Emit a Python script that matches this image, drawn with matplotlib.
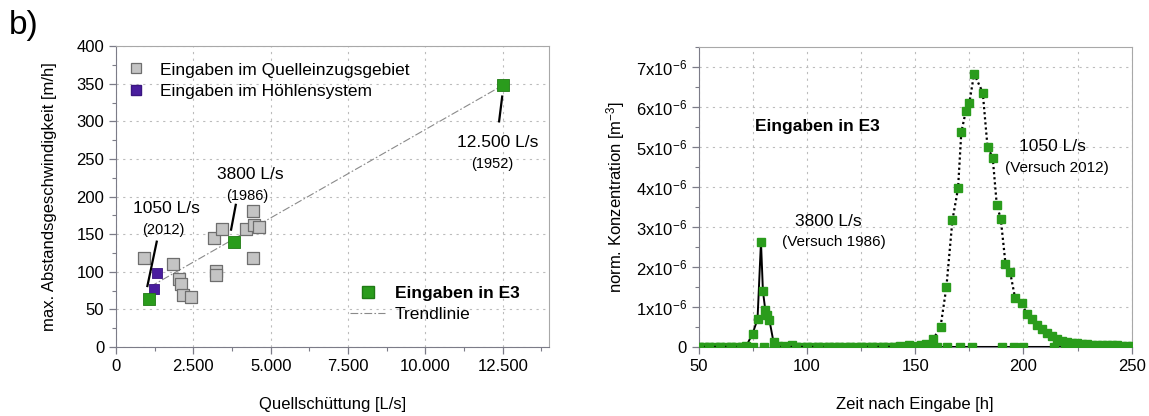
import matplotlib
matplotlib.use("Agg")
import matplotlib.pyplot as plt
from matplotlib.lines import Line2D
from matplotlib.ticker import MultipleLocator, FixedLocator

plt.rcParams['font.family'] = ['Liberation Sans', 'DejaVu Sans']
plt.rcParams['mathtext.default'] = 'regular'

# --- left panel: max. flow velocity vs. spring discharge ---
catch_q = [894, 1832, 2026, 2101, 2177, 2425, 3157, 3438, 3222, 3222,
           4213, 4418, 4472, 4623, 4418]
catch_v = [118, 110, 90, 84, 69.5, 67, 145.5, 156.5, 100.5, 96,
           156.5, 180.5, 162.5, 159, 118]
cave_q = [1336, 1228]
cave_v = [98, 77.5]
e3_q = [1050, 3800, 12500]
e3_v = [64, 140, 348]
e3_label = ['1050 L/s', '3800 L/s', '12.500 L/s']
e3_year = ['(2012)', '(1986)', '(1952)']
trend_q = [1100, 12500]
trend_v = [80, 348]

# --- right panel: breakthrough curves at E3 (values in 1e-6 m^-3) ---
t_1986 = [50, 52.5, 55, 57.5, 60, 62.5, 65, 67.5, 70, 72, 74.9, 77.2, 78.8,
          79.7, 80.8, 81.8, 82.7, 84.6, 86.5, 89.5, 93, 95, 97.5, 100, 102.5,
          105, 107.5, 110, 112.5, 115, 117.5, 120, 122.5, 125, 127.5, 130,
          132.5, 135, 137.5, 140, 142.5, 145, 147.5, 150, 152.5, 155, 157.5,
          160, 164.6, 170.8, 176.1, 190, 195.4, 200, 214.1, 219.2]
c_1986 = [0, 0, 0, 0, 0, 0, 0, 0, 0, 0.02, 0.33, 0.69, 2.63,
          1.40, 0.92, 0.79, 0.67, 0.12, 0.03, 0.02, 0.04, 0.01, 0, 0, 0,
          0, 0, 0, 0, 0, 0, 0, 0, 0, 0, 0,
          0, 0, 0, 0, 0, 0, 0, 0, 0, 0, 0,
          0, 0, 0, 0, 0, 0, 0, 0, 0]
t_2012 = [50, 55, 60, 65, 70, 75, 80, 85, 90, 95, 100, 105, 110, 115, 120,
          125, 130, 135, 140, 143, 147.2, 150, 152.5, 154.9, 158.4, 161.7,
          164.4, 167.2, 169.8, 171.3, 173.4, 175.0, 177.2, 181.2, 183.4,
          185.8, 187.7, 189.5, 191.7, 193.8, 196.1, 199.2, 201.5, 203.8,
          206.2, 208.5, 210.8, 213.1, 215.4, 217.7, 220, 222.3, 224.6, 226.9,
          229.2, 231.5, 233.8, 236.1, 238.4, 240.7, 243, 245.3, 247.6, 250]
c_2012 = [0, 0, 0, 0, 0, 0, 0, 0, 0, 0, 0, 0, 0, 0, 0,
          0, 0, 0, 0, 0.02, 0.05, 0.03, 0.04, 0.08, 0.2, 0.5,
          1.49, 3.17, 3.97, 5.37, 5.90, 6.10, 6.83, 6.36, 5.00,
          4.73, 3.54, 3.21, 2.08, 1.88, 1.23, 1.10, 0.82, 0.70,
          0.55, 0.45, 0.36, 0.28, 0.21, 0.16, 0.12, 0.10, 0.09, 0.08,
          0.07, 0.06, 0.06, 0.05, 0.05, 0.04, 0.04, 0.03, 0.03, 0.02]
conc_ticks = [0, 1, 2, 3, 4, 5, 6, 7]
conc_labels = ['0'] + [f'{k}x10$^{{-6}}$' for k in conc_ticks[1:]]

GREEN = '#2a9c1c'
GRAY_FACE = '#c4c4c4'
GRAY_EDGE = '#6e6e6e'
PURPLE = '#4a1e9e'
GRID_LS = (0, (2, 4))


def style_axes(ax):
    for side in ('left', 'bottom'):
        ax.spines[side].set_color('#7c7c88')
    for side in ('top', 'right'):
        ax.spines[side].set_color('#a8a8a8')
    ax.tick_params(which='both', direction='out', colors='#7c7c88',
                   labelcolor='black', labelsize=12, top=False, right=False)
    ax.tick_params(which='major', length=5, width=0.9)
    ax.tick_params(which='minor', length=3, width=0.8)


fig = plt.figure(figsize=(11.49, 4.16), dpi=100)
ax1 = fig.add_axes([0.101, 0.166, 0.377, 0.723])
ax2 = fig.add_axes([0.608, 0.166, 0.377, 0.721])

# left panel
ax1.plot(trend_q, trend_v, color='#8a8a8a', lw=0.8,
         linestyle=(0, (7, 2, 1.5, 2)), zorder=2)
ax1.scatter(catch_q, catch_v, marker='s', s=70, facecolor=GRAY_FACE,
            edgecolor=GRAY_EDGE, linewidth=0.9, zorder=3)
ax1.scatter(cave_q, cave_v, marker='s', s=60, facecolor=PURPLE,
            edgecolor='#3a1580', linewidth=0.6, zorder=4)
ax1.scatter(e3_q, e3_v, marker='s', s=80, facecolor=GREEN,
            edgecolor='#1f7a14', linewidth=0.6, zorder=5)

# labels of the E3 injections with leader lines
ax1.plot([1315, 1013], [140, 81], color='black', lw=1.6, zorder=6)
ax1.plot([3869, 3718], [189, 156], color='black', lw=1.6, zorder=6)
ax1.plot([12480, 12380], [333, 300], color='black', lw=1.6, zorder=6)
label_pos = [(1640, 184, 1530, 156), (4350, 230, 4225, 201), (12330, 272, 12155, 243)]
for (lx, ly, yx, yy), lab, yr in zip(label_pos, e3_label, e3_year):
    ax1.text(lx, ly, lab, fontsize=12.5, ha='center', va='center')
    ax1.text(yx, yy, yr, fontsize=10.5, ha='center', va='center')

ax1.set_xlim(0, 14000)
ax1.set_ylim(0, 400)
ax1.xaxis.set_major_locator(MultipleLocator(2500))
ax1.xaxis.set_minor_locator(MultipleLocator(1250))
ax1.yaxis.set_major_locator(MultipleLocator(50))
ax1.yaxis.set_minor_locator(MultipleLocator(25))
ax1.set_xticklabels([f'{int(v):,}'.replace(',', '.') for v in ax1.get_xticks()])
ax1.grid(True, which='major', color='#bcbcbc', lw=0.8, linestyle=GRID_LS)
ax1.set_axisbelow(True)
style_axes(ax1)
ax1.set_xlabel('Quellschüttung [L/s]', fontsize=12, labelpad=17)
ax1.set_ylabel('max. Abstandsgeschwindigkeit [m/h]', fontsize=12, labelpad=14)

h_catch = Line2D([], [], marker='s', ls='none', ms=7.5, mfc=GRAY_FACE,
                 mec=GRAY_EDGE, mew=0.9)
h_cave = Line2D([], [], marker='s', ls='none', ms=7.5, mfc=PURPLE, mec='#3a1580')
leg1 = ax1.legend([h_catch, h_cave],
                  ['Eingaben im Quelleinzugsgebiet', 'Eingaben im Höhlensystem'],
                  loc='upper left', bbox_to_anchor=(-0.015, 0.998), frameon=False,
                  fontsize=12.5, handletextpad=0.8, labelspacing=0.35,
                  handlelength=1.2)
ax1.add_artist(leg1)
h_e3 = Line2D([], [], marker='s', ls='none', ms=9, mfc=GREEN, mec='#1f7a14')
h_trend = Line2D([], [], color='#8a8a8a', lw=0.8, linestyle=(0, (7, 2, 1.5, 2)))
leg2 = ax1.legend([h_e3, h_trend], ['Eingaben in E3', 'Trendlinie'],
                  loc='lower left', bbox_to_anchor=(0.505, 0.03), frameon=False,
                  fontsize=12.5, handletextpad=0.55, labelspacing=0.35,
                  handlelength=2.0)
leg2.get_texts()[0].set_fontweight('bold')

# right panel
ax2.plot(t_1986, c_1986, color='black', lw=1.4, marker='s', ms=5.5,
         mfc=GREEN, mec=GREEN, zorder=3)
ax2.plot(t_2012, c_2012, color='black', lw=1.6, linestyle=(0, (1, 1.3)),
         marker='s', ms=5.5, mfc=GREEN, mec=GREEN, zorder=4)
ax2.text(76, 5.52, 'Eingaben in E3', fontsize=12.5, fontweight='bold',
         ha='left', va='center')
ax2.text(110, 3.13, '3800 L/s', fontsize=12.5, ha='center', va='center')
ax2.text(112.3, 2.63, '(Versuch 1986)', fontsize=11, ha='center', va='center')
ax2.text(213.5, 5.0, '1050 L/s', fontsize=12.5, ha='center', va='center')
ax2.text(215.4, 4.48, '(Versuch 2012)', fontsize=11, ha='center', va='center')

ax2.set_xlim(50, 250)
ax2.set_ylim(0, 7.5)
ax2.xaxis.set_major_locator(MultipleLocator(50))
ax2.xaxis.set_minor_locator(MultipleLocator(25))
ax2.yaxis.set_major_locator(FixedLocator(conc_ticks))
ax2.yaxis.set_minor_locator(MultipleLocator(0.5))
ax2.set_yticklabels(conc_labels)
ax2.grid(True, which='major', axis='y', color='#bcbcbc', lw=0.8, linestyle=GRID_LS)
ax2.grid(True, which='both', axis='x', color='#bcbcbc', lw=0.8, linestyle=GRID_LS)
ax2.set_axisbelow(True)
style_axes(ax2)
ax2.set_xlabel('Zeit nach Eingabe [h]', fontsize=12, labelpad=17)
ax2.set_ylabel('norm. Konzentration [m$^{-3}$]', fontsize=12, labelpad=6)

fig.text(0.008, 0.975, 'b)', fontsize=24, ha='left', va='top')

fig.savefig('out.png', dpi=100)
